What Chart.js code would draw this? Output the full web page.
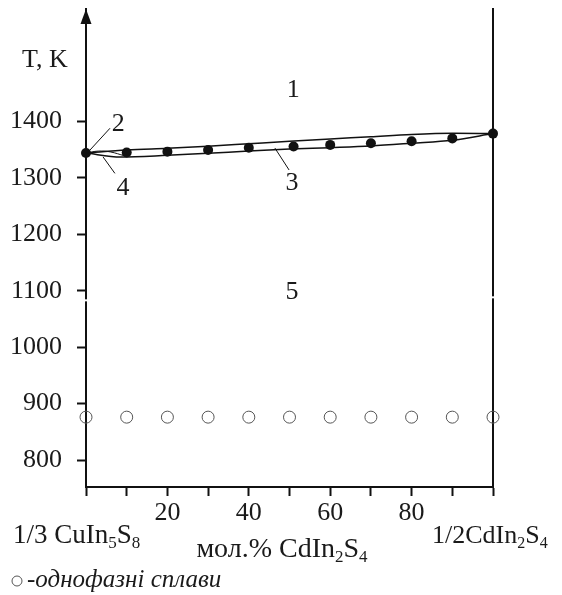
<!DOCTYPE html>
<html>
<head>
<meta charset="utf-8">
<script src="https://cdn.jsdelivr.net/npm/chart.js@4.4.1/dist/chart.umd.min.js"></script>
<style>
  html, body { margin: 0; padding: 0; background: #fff; }
  #wrap { width: 562px; height: 595px; position: relative; }
</style>
</head>
<body>
<div id="wrap"><canvas id="c"></canvas></div>
<script>
// ---- data (mol.% CdIn2S4, T in K) ----
const xTicks = [0, 10, 20, 30, 40, 50, 60, 70, 80, 90, 100];
const xTickLabels = ['', '', '20', '', '40', '', '60', '', '80', '', ''];
const yTicks = [800, 900, 1000, 1100, 1200, 1300, 1400];

const dtaX = [0, 10, 20, 30, 40, 51, 60, 70, 80, 90, 100];
const dtaT = [1344, 1345, 1346.5, 1349.5, 1353.5, 1355.5, 1358.5, 1361.5, 1365, 1370, 1378.5];

const liquidusX = [0, 10, 20, 30, 40, 50, 60, 70, 80, 90, 100];
const liquidusT = [1344, 1349.5, 1352.5, 1356, 1360.5, 1365, 1369, 1373, 1377, 1379, 1378.5];

const solidusX = [0, 8.5, 20, 30, 40, 50, 60, 70, 80, 90, 100];
const solidusT = [1344, 1337, 1340, 1343.5, 1347.5, 1351, 1353.6, 1356.6, 1361.4, 1366.7, 1378.5];

const lensX = [0, 3, 6, 9.5];
const lensT = [1344, 1347.5, 1346, 1339];

const singlePhaseX = [0, 10, 20, 30, 40, 50, 60, 70, 80, 90, 100];
const singlePhaseT = [876, 876, 876, 876, 876, 876, 876, 876, 876, 876, 876];

// field labels: [text, x, T]
const fieldLabels = [['1', 50.9, 1456], ['2', 7.9, 1396], ['3', 50.6, 1291], ['4', 9.1, 1282], ['5', 50.6, 1098]];
// leader lines: [x1, T1, x2, T2]
const leaders = [[5.9, 1388, 1.0, 1349.5], [46.4, 1353, 49.9, 1314], [4.2, 1337, 7.1, 1308]];

const Y_MIN = 752.2, Y_MAX = 1599.3;
const SERIF = "'Liberation Serif', 'Times New Roman', serif";

function pts(xs, ys) { return xs.map((x, i) => ({ x: x, y: ys[i] })); }

function drawRuns(ctx, runs, x, y, size, align) {
  const subSize = Math.round(size * 0.62);
  let total = 0;
  runs.forEach(r => {
    ctx.font = (r[1] ? subSize : size) + 'px ' + SERIF;
    total += ctx.measureText(r[0]).width;
  });
  let cx = align === 'center' ? x - total / 2 : x;
  ctx.textAlign = 'left';
  ctx.textBaseline = 'alphabetic';
  runs.forEach(r => {
    ctx.font = (r[1] ? subSize : size) + 'px ' + SERIF;
    ctx.fillText(r[0], cx, r[1] ? y + 5 : y);
    cx += ctx.measureText(r[0]).width;
  });
}

const decor = {
  id: 'decor',
  beforeDatasetsDraw(chart) {
    const ctx = chart.ctx, xs = chart.scales.x, ys = chart.scales.y, a = chart.chartArea;
    ctx.save();
    const xr = xs.getPixelForValue(100);
    ctx.strokeStyle = '#111';
    ctx.lineWidth = 2;
    ctx.beginPath();
    ctx.moveTo(xr, a.top - 1);
    ctx.lineTo(xr, a.bottom);
    ctx.stroke();
    const xl = xs.getPixelForValue(0);
    ctx.fillStyle = '#111';
    ctx.beginPath();
    ctx.moveTo(xl, a.top);
    ctx.lineTo(xl - 5.5, a.top + 15);
    ctx.lineTo(xl + 5.5, a.top + 15);
    ctx.closePath();
    ctx.fill();
    const yg = ys.getPixelForValue(1083);
    ctx.fillStyle = '#fff';
    ctx.fillRect(xl - 3, yg - 1, 6, 2);
    ctx.fillRect(xr - 3, yg - 4, 6, 2);
    ctx.strokeStyle = '#111';
    ctx.lineWidth = 1;
    leaders.forEach(l => {
      ctx.beginPath();
      ctx.moveTo(xs.getPixelForValue(l[0]), ys.getPixelForValue(l[1]));
      ctx.lineTo(xs.getPixelForValue(l[2]), ys.getPixelForValue(l[3]));
      ctx.stroke();
    });
    ctx.restore();
  },
  afterDraw(chart) {
    const ctx = chart.ctx, xs = chart.scales.x, ys = chart.scales.y;
    ctx.save();
    ctx.fillStyle = '#1a1a1a';
    ctx.font = '26px ' + SERIF;
    ctx.textAlign = 'center';
    ctx.textBaseline = 'middle';
    fieldLabels.forEach(f => ctx.fillText(f[0], xs.getPixelForValue(f[1]), ys.getPixelForValue(f[2])));
    ctx.textAlign = 'left';
    ctx.textBaseline = 'alphabetic';
    ctx.fillText('T, K', 22, 67);
    drawRuns(ctx, [['1/3 CuIn', 0], ['5', 1], ['S', 0], ['8', 1]], 13, 543, 27, 'left');
    drawRuns(ctx, [['1/2CdIn', 0], ['2', 1], ['S', 0], ['4', 1]], 432, 543, 26, 'left');
    drawRuns(ctx, [['мол.% CdIn', 0], ['2', 1], ['S', 0], ['4', 1]], 282, 557, 28, 'center');
    ctx.strokeStyle = '#555';
    ctx.lineWidth = 1;
    ctx.beginPath();
    ctx.arc(17, 581, 5, 0, Math.PI * 2);
    ctx.stroke();
    ctx.font = 'italic 25px ' + SERIF;
    ctx.fillText('-однофазні сплави', 27, 587);
    ctx.restore();
  }
};

function fixPad(s) { s.paddingTop = 0; s.paddingBottom = 0; s.paddingLeft = 0; s.paddingRight = 0; }

new Chart(document.getElementById('c'), {
  type: 'scatter',
  data: {
    datasets: [
      { label: 'liquidus', data: pts(liquidusX, liquidusT), showLine: true, borderColor: '#111', borderWidth: 1.5,
        pointRadius: 0, cubicInterpolationMode: 'monotone', fill: false },
      { label: 'solidus', data: pts(solidusX, solidusT), showLine: true, borderColor: '#111', borderWidth: 1.5,
        pointRadius: 0, cubicInterpolationMode: 'monotone', fill: false },
      { label: 'lens', data: pts(lensX, lensT), showLine: true, borderColor: '#111', borderWidth: 1,
        pointRadius: 0, tension: 0.4, fill: false },
      { label: 'DTA', data: pts(dtaX, dtaT), showLine: false, pointRadius: 5, pointBackgroundColor: '#111',
        pointBorderColor: '#111', pointBorderWidth: 0 },
      { label: 'single-phase', data: pts(singlePhaseX, singlePhaseT), showLine: false, pointRadius: 6,
        pointBackgroundColor: 'rgba(0,0,0,0)', pointBorderColor: '#555', pointBorderWidth: 1 }
    ]
  },
  options: {
    responsive: true,
    maintainAspectRatio: false,
    animation: false,
    clip: false,
    layout: { padding: { left: 0, right: 69, top: 9, bottom: 68 } },
    plugins: { legend: { display: false }, tooltip: { enabled: false } },
    scales: {
      x: {
        type: 'linear', min: 0, max: 100,
        afterBuildTicks: s => { s.ticks = xTicks.map(v => ({ value: v })); },
        afterFit: s => { s.height = 40; fixPad(s); },
        grid: { display: true, drawOnChartArea: false, drawTicks: true, tickLength: 9, tickWidth: 2, tickColor: '#111' },
        border: { display: true, color: '#111', width: 2 },
        ticks: {
          autoSkip: false, maxRotation: 0, padding: 2, color: '#1a1a1a',
          font: { family: SERIF, size: 26 },
          callback: (v) => { const i = xTicks.indexOf(v); return i >= 0 ? xTickLabels[i] : ''; }
        }
      },
      y: {
        type: 'linear', min: Y_MIN, max: Y_MAX,
        afterBuildTicks: s => { s.ticks = yTicks.map(v => ({ value: v })); },
        afterFit: s => { s.width = 86; fixPad(s); },
        grid: { display: true, drawOnChartArea: false, drawTicks: true, tickLength: 9, tickWidth: 2, tickColor: '#111' },
        border: { display: true, color: '#111', width: 2 },
        ticks: { padding: 15, color: '#1a1a1a', font: { family: SERIF, size: 26 }, callback: v => String(v) }
      }
    }
  },
  plugins: [decor]
});
</script>
</body>
</html>
